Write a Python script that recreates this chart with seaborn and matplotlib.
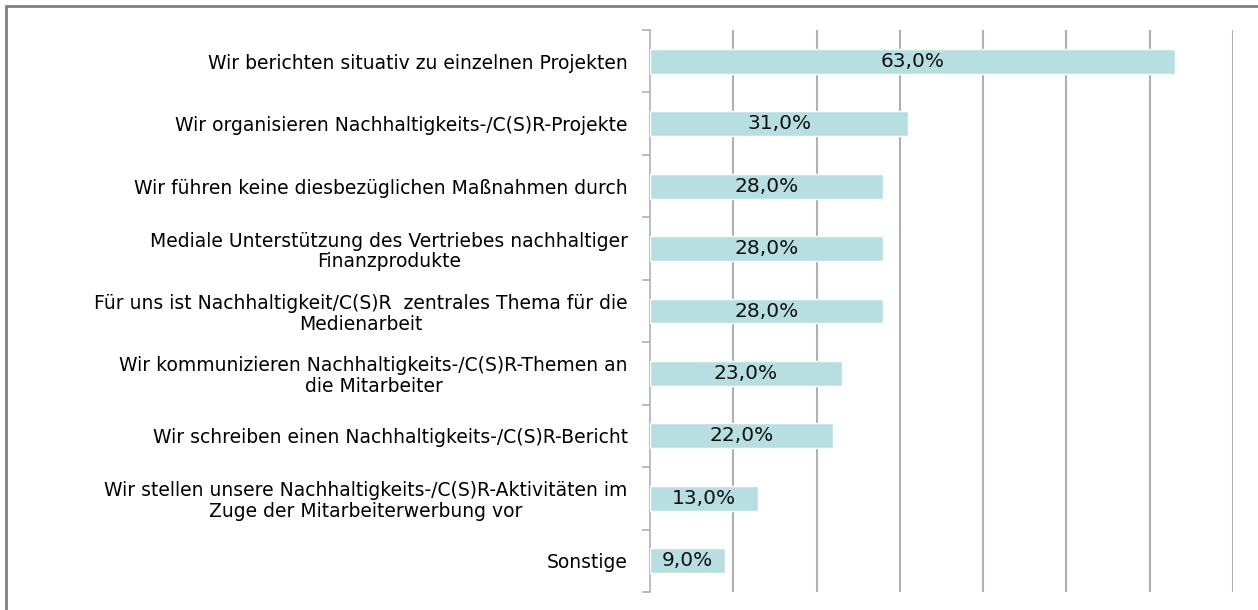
import pandas as pd
import numpy as np
import matplotlib.pyplot as plt
import seaborn as sns
from matplotlib.patches import Rectangle

# data
categories = [
    "Wir berichten situativ zu einzelnen Projekten",
    "Wir organisieren Nachhaltigkeits-/C(S)R-Projekte",
    "Wir führen keine diesbezüglichen Maßnahmen durch",
    "Mediale Unterstützung des Vertriebes nachhaltiger\nFinanzprodukte",
    "Für uns ist Nachhaltigkeit/C(S)R  zentrales Thema für die\nMedienarbeit",
    "Wir kommunizieren Nachhaltigkeits-/C(S)R-Themen an\ndie Mitarbeiter",
    "Wir schreiben einen Nachhaltigkeits-/C(S)R-Bericht",
    "Wir stellen unsere Nachhaltigkeits-/C(S)R-Aktivitäten im\nZuge der Mitarbeiterwerbung vor",
    "Sonstige",
]
values = [63.0, 31.0, 28.0, 28.0, 28.0, 23.0, 22.0, 13.0, 9.0]
value_labels = ["63,0%", "31,0%", "28,0%", "28,0%", "28,0%", "23,0%", "22,0%", "13,0%", "9,0%"]

df = pd.DataFrame({"Kategorie": categories, "Wert": values})

sns.set_style("white")
plt.rcParams['font.family'] = ['DejaVu Sans']

fig = plt.figure(figsize=(12.58, 6.10), dpi=100)
ax = fig.add_axes([650 / 1258, 1 - 592 / 610, (1233 - 650) / 1258, (592 - 30) / 610])

sns.barplot(data=df, x="Wert", y="Kategorie", color="#b7dfe2", saturation=1,
            width=0.4, ax=ax, orient="h", zorder=3)

ax.set_xlim(0, 70)
ax.set_ylim(len(categories) - 0.5, -0.5)
ax.set_xticks(np.arange(10, 71, 10))
ax.set_xticklabels([])
ax.tick_params(axis="x", length=0)
ax.grid(axis="x", color="#b0b0b0", linewidth=1.5, zorder=0)
ax.set_axisbelow(True)

# category labels without ticks, separator ticks between categories
ax.tick_params(axis="y", which="major", left=False, length=0, pad=16)
ax.set_yticks(np.arange(-0.5, len(categories), 1), minor=True)
ax.tick_params(axis="y", which="minor", left=True, length=6, color="#b0b0b0", width=1.2)
for lbl in ax.get_yticklabels():
    lbl.set_fontsize(13.5)
    lbl.set_color("black")
    lbl.set_linespacing(1.1)
    lbl.set_multialignment("center")

for side in ["top", "right", "bottom"]:
    ax.spines[side].set_visible(False)
ax.spines["left"].set_color("#b0b0b0")
ax.spines["left"].set_linewidth(1.2)

ax.set_xlabel("")
ax.set_ylabel("")

# value labels in the middle of each bar
for i, (v, t) in enumerate(zip(values, value_labels)):
    ax.text(v / 2, i, t, ha="center", va="center", fontsize=14.5, color="#111111", zorder=4)

# grey frame around the chart area
fig.patches.append(Rectangle((6 / 1258, -0.05), 1.1, 1 - 6 / 610 + 0.05,
                             transform=fig.transFigure, fill=False,
                             edgecolor="#7f7f7f", linewidth=2))

fig.savefig("out.png", dpi=100)
